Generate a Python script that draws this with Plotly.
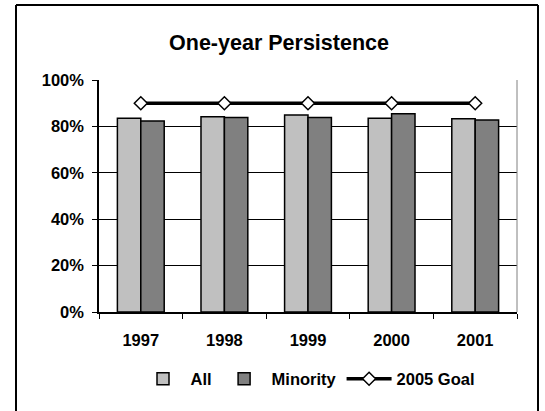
import plotly.graph_objects as go

# ---------------------------------------------------------------------------
# Data
# ---------------------------------------------------------------------------

YEARS    = ["1997", "1998", "1999", "2000", "2001"]
ALL      = [0.835, 0.842, 0.849, 0.835, 0.833]
MINORITY = [0.823, 0.838, 0.838, 0.855, 0.828]
GOAL     = [0.90, 0.90, 0.90, 0.90, 0.90]

# ---------------------------------------------------------------------------
# Layout constants (pixels)
# ---------------------------------------------------------------------------

W, H = 545, 411
PL, PR, PT, PB = 99, 517, 80, 312   # plot area edges
FONT = "Liberation Sans, Arial, sans-serif"


def px_x(x):
    return (x - PL) / (PR - PL)


def px_y(y):
    return (PB - y) / (PB - PT)


fig = go.Figure()
fig.add_trace(go.Bar(x=YEARS, y=ALL, name="All",
                     marker=dict(color="#c0c0c0", line=dict(color="black", width=1.5))))
fig.add_trace(go.Bar(x=YEARS, y=MINORITY, name="Minority",
                     marker=dict(color="#808080", line=dict(color="black", width=1.5))))
fig.add_trace(go.Scatter(x=YEARS, y=GOAL, name="2005 Goal", mode="lines+markers",
                         line=dict(color="black", width=3.5),
                         marker=dict(symbol="diamond", size=10, color="white",
                                     line=dict(color="black", width=1.5))))

# outer frame (open at the bottom) and right plot edge
frame = dict(type="line", xref="paper", yref="paper", line=dict(color="black", width=2))
fig.add_shape(x0=px_x(16), x1=px_x(16), y0=px_y(5), y1=px_y(420), **frame)
fig.add_shape(x0=px_x(16), x1=px_x(538), y0=px_y(5), y1=px_y(5), **frame)
fig.add_shape(x0=px_x(538), x1=px_x(538), y0=px_y(5), y1=px_y(420), **frame)
fig.add_shape(type="line", xref="paper", yref="paper", x0=1, x1=1, y0=0, y1=1,
              line=dict(color="#808080", width=1))

fig.update_layout(
    width=W, height=H,
    margin=dict(l=PL, r=W - PR, t=PT, b=H - PB),
    paper_bgcolor="white", plot_bgcolor="white",
    font=dict(family=FONT, size=16.5, color="black", weight="bold"),
    title=dict(text="One-year Persistence", x=279 / W, xanchor="center",
               y=1 - 42 / H, yanchor="middle",
               font=dict(size=21.5, weight="bold")),
    barmode="group", bargap=0.44, bargroupgap=0.0,
    showlegend=True,
    legend=dict(orientation="h", x=0.5, xanchor="center", y=px_y(379), yanchor="middle",
                font=dict(size=16.5, weight="bold"), itemwidth=45,
                bgcolor="rgba(0,0,0,0)", tracegroupgap=0),
)
fig.update_xaxes(showline=True, linecolor="black", linewidth=1.5,
                 ticks="outside", ticklen=5, tickcolor="black", tickson="boundaries",
                 ticklabelstandoff=12, showgrid=False)
fig.update_yaxes(range=[0, 1], dtick=0.2, tickformat=".0%",
                 showline=True, linecolor="black", linewidth=1.5,
                 ticks="outside", ticklen=5, tickcolor="black", ticklabelstandoff=5,
                 showgrid=True, gridcolor="black", gridwidth=1, zeroline=False)

# drop the browser's default page margin so the figure sits at the window origin
fig.write_html("out.html", config={"displayModeBar": False},
               post_script="document.body.style.margin='0';"
                           "document.body.style.overflow='hidden';")
